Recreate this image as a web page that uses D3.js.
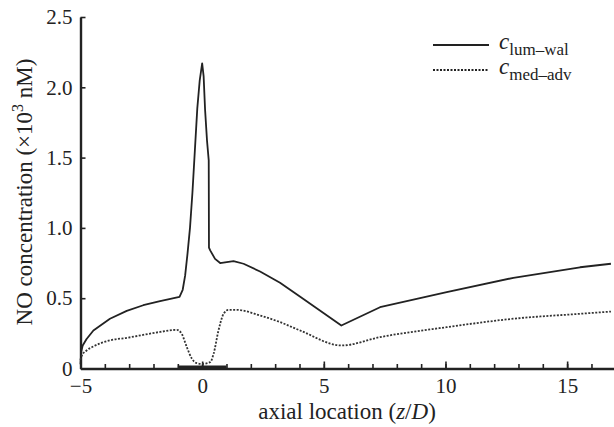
<!DOCTYPE html>
<html>
<head>
<meta charset="utf-8">
<script src="https://cdn.jsdelivr.net/npm/d3@7"></script>
<style>
  body { margin: 0; background: #fff; }
  text { font-family: "Liberation Serif", "DejaVu Serif", serif; fill: #222; }
</style>
</head>
<body>
<div id="chart"></div>
<script>
// axial location (z/D) and NO concentration (x10^3 nM)
const lumX = [-5, -4.97, -4.91, -4.75, -4.47, -3.79, -3.1, -2.42, -1.73, -0.93, -0.8, -0.7, -0.6, -0.5, -0.4,
  -0.3, -0.2, -0.1, 0, 0.06, 0.12, 0.2, 0.27, 0.28, 0.33, 0.53, 0.74, 1.01, 1.29, 1.7, 2.38, 3.2, 4.03,
  5.72, 7.31, 10.05, 12.79, 15.53, 16.8];
const lumY = [0.03, 0.12, 0.164, 0.21, 0.27, 0.354, 0.41, 0.45, 0.48, 0.51, 0.56, 0.66, 0.82, 1.0, 1.25,
  1.55, 1.85, 2.05, 2.17, 2.08, 1.84, 1.62, 1.48, 0.86, 0.84, 0.78, 0.75, 0.757, 0.764, 0.745, 0.69, 0.61, 0.51,
  0.306, 0.436, 0.543, 0.645, 0.72, 0.745];

const medX = [-5, -4.95, -4.75, -4.47, -3.79, -3.1, -1.73, -1.04, -0.84, -0.63, -0.42, -0.22, -0.01, 0.33,
  0.47, 0.67, 0.88, 1.08, 1.42, 2.38, 3.2, 4.03, 5.73, 7.31, 10.05, 12.79, 15.53, 16.8];
const medY = [0.06, 0.09, 0.128, 0.157, 0.2, 0.218, 0.26, 0.275, 0.247, 0.152, 0.069, 0.038, 0.033, 0.045,
  0.104, 0.27, 0.389, 0.417, 0.417, 0.377, 0.33, 0.27, 0.164, 0.223, 0.294, 0.354, 0.389, 0.405];

const xMajor = [-5, 0, 5, 10, 15];
const xMinor = d3.range(-5, 18, 1);
const yTicks = [0, 0.5, 1.0, 1.5, 2.0, 2.5];
const stentRange = [-1, 1];

const width = 614, height = 427;
const svg = d3.select('#chart').append('svg')
  .attr('width', width)
  .attr('height', height);

const x = d3.scaleLinear().domain([-5, 17]).range([80.5, 615.8]);
const y = d3.scaleLinear().domain([0, 2.5]).range([368.5, 17]);

// minor ticks on x
svg.append('g')
  .attr('transform', `translate(0,${y(0)})`)
  .call(d3.axisBottom(x).tickValues(xMinor).tickSize(-4.5).tickSizeOuter(0).tickFormat(''))
  .call(g => g.select('.domain').remove())
  .call(g => g.selectAll('line').attr('stroke', '#222').attr('stroke-width', 1.6));

// major ticks on x
const xAxis = svg.append('g')
  .attr('transform', `translate(0,${y(0)})`)
  .call(d3.axisBottom(x).tickValues(xMajor).tickSize(-7).tickSizeOuter(0).tickPadding(10)
    .tickFormat(d3.format('d')));
xAxis.select('.domain').attr('stroke', '#222').attr('stroke-width', 2.4);
xAxis.selectAll('line').attr('stroke', '#222').attr('stroke-width', 1.6);
xAxis.selectAll('text').attr('font-size', 21).attr('fill', '#222')
  .style('font-family', '"Liberation Serif", serif');

// y axis
const yAxis = svg.append('g')
  .attr('transform', `translate(${x(-5)},0)`)
  .call(d3.axisLeft(y).tickValues(yTicks).tickSize(-5).tickSizeOuter(0).tickPadding(8)
    .tickFormat(d => d === 0 ? '0' : d3.format('.1f')(d)));
yAxis.select('.domain').attr('stroke', '#222').attr('stroke-width', 2.4);
yAxis.selectAll('line').attr('stroke', '#222').attr('stroke-width', 1.6);
yAxis.selectAll('text').attr('font-size', 21).attr('fill', '#222')
  .style('font-family', '"Liberation Serif", serif');

// thick bar on the axis (stent region)
svg.append('line')
  .attr('x1', x(stentRange[0])).attr('x2', x(stentRange[1]))
  .attr('y1', y(0) - 1).attr('y2', y(0) - 1)
  .attr('stroke', '#222').attr('stroke-width', 4);

const line = d3.line()
  .x(d => x(d[0]))
  .y(d => y(d[1]));

svg.append('path')
  .datum(lumX.map((v, i) => [v, lumY[i]]))
  .attr('d', line)
  .attr('fill', 'none')
  .attr('stroke', '#222')
  .attr('stroke-width', 1.8)
  .attr('stroke-linejoin', 'round');

svg.append('path')
  .datum(medX.map((v, i) => [v, medY[i]]))
  .attr('d', d3.line().x(d => x(d[0])).y(d => y(d[1])).curve(d3.curveMonotoneX))
  .attr('fill', 'none')
  .attr('stroke', '#333')
  .attr('stroke-width', 1.8)
  .attr('stroke-dasharray', '2,1.5');

// legend
const legend = [
  { name: 'lum–wal', dash: null, y: 45 },
  { name: 'med–adv', dash: '2,1.5', y: 70 }
];
legend.forEach(l => {
  svg.append('line')
    .attr('x1', 433).attr('x2', 489)
    .attr('y1', l.y).attr('y2', l.y)
    .attr('stroke', '#222').attr('stroke-width', 1.8)
    .attr('stroke-dasharray', l.dash);
  const t = svg.append('text')
    .attr('x', 499).attr('y', l.y + 4)
    .attr('font-size', 23);
  t.append('tspan').attr('font-style', 'italic').text('c');
  t.append('tspan').attr('font-size', 17).attr('dy', 6).text(l.name);
});

// axis titles
const xt = svg.append('text')
  .attr('x', 347).attr('y', 419)
  .attr('text-anchor', 'middle')
  .attr('font-size', 23);
xt.append('tspan').text('axial location (');
xt.append('tspan').attr('font-style', 'italic').text('z');
xt.append('tspan').text('/');
xt.append('tspan').attr('font-style', 'italic').text('D');
xt.append('tspan').text(')');

const yt = svg.append('text')
  .attr('transform', 'translate(32,192) rotate(-90)')
  .attr('text-anchor', 'middle')
  .attr('font-size', 23);
yt.append('tspan').text('NO concentration (×10');
yt.append('tspan').attr('font-size', 16).attr('dy', -9).text('3');
yt.append('tspan').attr('dy', 9).text(' nM)');
</script>
</body>
</html>
